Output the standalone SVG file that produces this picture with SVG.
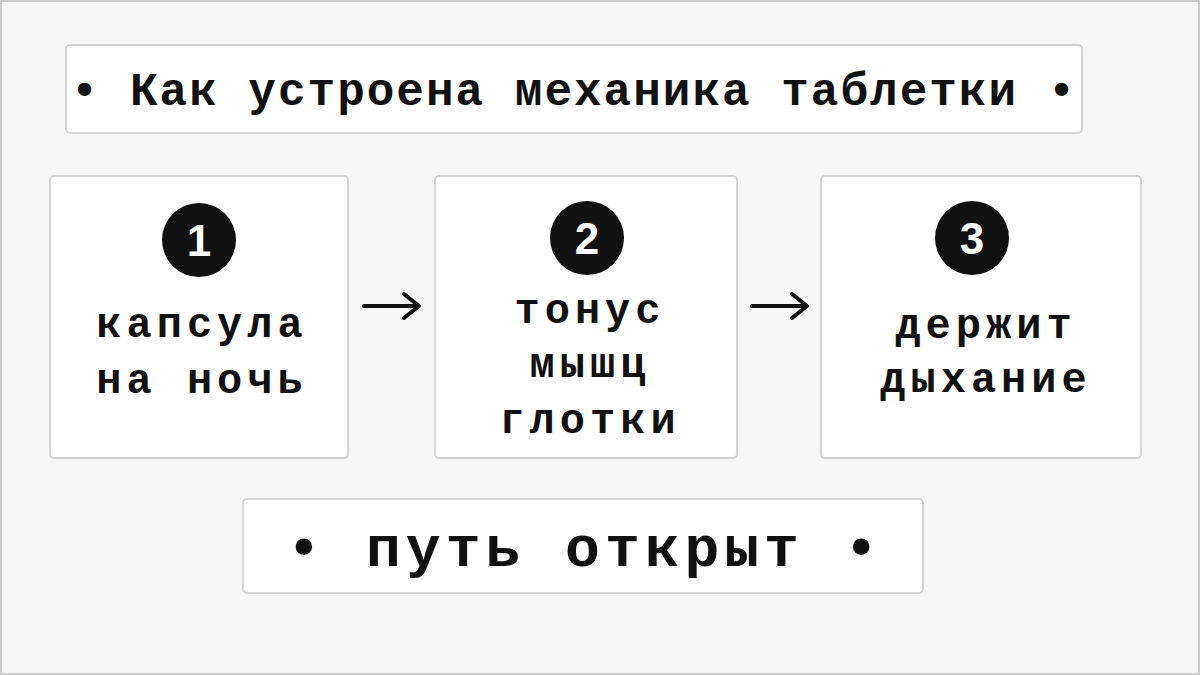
<svg xmlns="http://www.w3.org/2000/svg" width="1200" height="675" viewBox="0 0 1200 675">
<defs>
<style>
.box{fill:#fff;stroke:#d4d4d4;stroke-width:2}
.t{font-family:"Liberation Mono","DejaVu Sans Mono",monospace;font-weight:bold;fill:#111;text-anchor:middle}
.n{font-size:42px;letter-spacing:5px}
.num{font-family:"Liberation Sans",sans-serif;font-weight:bold;font-size:44px;fill:#fff;text-anchor:middle}
.c{fill:#111}
.con{stroke:#111;stroke-width:4;fill:none;stroke-linecap:round;stroke-linejoin:round}
</style>
</defs>
<rect width="1200" height="675" fill="#f7f7f7"/>
<rect x="1" y="1" width="1198" height="673" fill="none" stroke="#ccc" stroke-width="2"/>
<g id="title"><rect class="box" x="66" y="45" width="1016" height="88" rx="4"/>
<text class="t" x="574" y="105" font-size="46" letter-spacing="2">• Как устроена механика таблетки •</text></g>
<g id="node1"><rect class="box" x="50" y="176" width="298" height="282" rx="4"/>
<circle class="c" cx="199" cy="240" r="37"/><text class="num" x="199" y="256">1</text>
<text class="t n" x="202" y="337">капсула</text><text class="t n" x="202" y="393">на ночь</text></g>
<g id="node2"><rect class="box" x="435" y="176" width="302" height="282" rx="4"/>
<circle class="c" cx="587" cy="238" r="37"/><text class="num" x="587" y="254">2</text>
<text class="t n" x="590" y="323">тонус</text><text class="t n" x="590" y="377">мышц</text><text class="t n" x="590" y="433">глотки</text></g>
<g id="node3"><rect class="box" x="821" y="176" width="320" height="282" rx="4"/>
<circle class="c" cx="972" cy="238" r="37"/><text class="num" x="972" y="254">3</text>
<text class="t n" x="986" y="338">держит</text><text class="t n" x="986" y="392">дыхание</text></g>
<g id="result"><rect class="box" x="243" y="499" width="680" height="94" rx="4"/>
<text class="t" x="585" y="566" font-size="58" letter-spacing="5">• путь открыт •</text></g>
<g id="connectors">
<path class="con" d="M364 306H418M404 294L419 306L404 318"/>
<path class="con" d="M752 306H806M792 294L807 306L792 318"/>
</g>
</svg>
